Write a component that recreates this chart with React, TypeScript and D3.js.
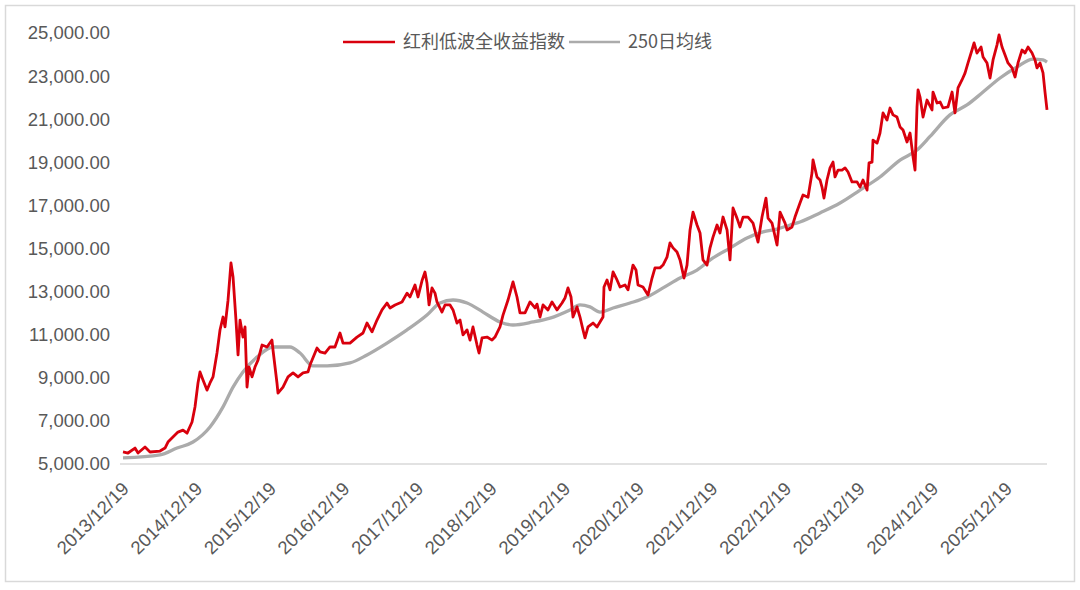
import React from "react";
import * as d3 from "d3";

// years elapsed since 2013/12/19, index value
const indexT = [0,0.068,0.163,0.204,0.299,0.367,0.503,0.571,0.611,0.679,0.747,0.815,0.870,0.938,0.978,1.019,1.046,1.087,1.141,1.182,1.223,1.277,1.318,1.359,1.386,1.427,1.467,1.495,1.535,1.563,1.590,1.630,1.658,1.685,1.712,1.753,1.793,1.834,1.889,1.957,2.024,2.038,2.092,2.106,2.174,2.242,2.310,2.378,2.446,2.514,2.541,2.636,2.677,2.745,2.812,2.880,2.948,2.989,3.084,3.179,3.261,3.315,3.383,3.451,3.519,3.587,3.628,3.696,3.791,3.859,3.899,3.967,4.008,4.062,4.103,4.130,4.158,4.198,4.239,4.266,4.334,4.375,4.443,4.484,4.538,4.579,4.620,4.674,4.715,4.755,4.810,4.837,4.878,4.946,5.014,5.054,5.122,5.163,5.231,5.299,5.353,5.394,5.462,5.530,5.598,5.625,5.666,5.707,5.774,5.829,5.897,5.965,6.005,6.046,6.087,6.114,6.168,6.209,6.250,6.277,6.318,6.386,6.440,6.481,6.522,6.535,6.576,6.617,6.658,6.712,6.753,6.821,6.861,6.929,6.970,6.997,7.065,7.133,7.188,7.228,7.296,7.337,7.391,7.432,7.473,7.527,7.568,7.622,7.663,7.704,7.745,7.799,7.840,7.880,7.935,7.976,8.016,8.071,8.111,8.152,8.207,8.247,8.288,8.342,8.383,8.424,8.492,8.560,8.628,8.682,8.736,8.764,8.818,8.886,8.927,8.995,9.022,9.090,9.130,9.198,9.239,9.307,9.361,9.375,9.429,9.470,9.497,9.524,9.565,9.606,9.647,9.674,9.715,9.769,9.810,9.851,9.905,9.973,10.014,10.054,10.109,10.136,10.177,10.190,10.245,10.285,10.326,10.380,10.421,10.462,10.516,10.557,10.598,10.652,10.693,10.734,10.761,10.788,10.802,10.829,10.870,10.924,10.992,11.005,11.060,11.101,11.141,11.209,11.264,11.304,11.345,11.399,11.440,11.481,11.535,11.563,11.603,11.658,11.685,11.739,11.780,11.821,11.875,11.902,11.943,11.984,12.024,12.079,12.120,12.160,12.215,12.255,12.296,12.351,12.391,12.418,12.459,12.500,12.527,12.554];
const indexValues = [5557,5510,5740,5510,5790,5557,5600,5740,6020,6250,6480,6570,6430,6950,7645,8760,9270,8900,8430,8760,9040,10150,11220,11820,11360,12600,14330,13680,11680,10060,11680,10890,11360,8570,9500,9040,9500,9820,10520,10430,10750,10290,8760,8290,8570,9040,9230,9040,9230,9270,9590,10380,10200,10150,10430,10430,11080,10610,10610,10890,11080,11540,11130,11680,12150,12470,12240,12380,12520,12930,12750,13310,12750,13500,13910,13400,12380,13170,12930,12520,12050,12380,12380,12150,11540,11680,10990,11220,10750,11360,10520,10150,10850,10890,10750,10890,11360,11910,12610,13450,12750,12010,12010,12520,12240,12420,11820,12380,12150,12520,12150,12470,12700,13170,12750,11820,12290,11820,11220,10850,11360,11540,11360,11590,11820,13210,13540,13080,13910,13540,13210,13310,13080,14230,14000,13310,13210,12840,13630,14100,14100,14230,14600,15260,15030,14840,14470,13630,14230,15860,16690,16090,15720,14470,14230,15030,15530,16090,15720,16460,15860,14470,16880,16410,16000,16460,16460,16180,15300,16460,17340,16410,16180,15160,16690,16180,15860,16000,16460,17110,17480,17380,18500,19110,18320,18180,17850,17340,18180,18740,19010,18320,18640,18640,18740,18550,18090,18090,17850,18180,17710,18970,19010,20030,19890,20360,21290,20960,21520,21200,21100,20640,20500,19940,20360,19250,18640,21570,22360,22030,21100,21890,21430,22260,21750,21800,21520,21570,22260,21290,22450,22820,23140,23610,24210,24540,24070,24350,23890,23610,22910,23750,24450,24910,24350,23980,23610,23380,22960,23610,24210,24070,24350,24070,23750,23380,23610,23150,22260,21430];

const maT = [0,0.503,0.734,0.951,1.182,1.359,1.495,1.630,1.821,2.038,2.269,2.405,2.582,2.772,3.084,3.315,3.587,3.859,4.130,4.307,4.484,4.674,4.891,5.122,5.299,5.571,5.802,6.073,6.209,6.345,6.481,6.658,6.889,7.120,7.337,7.568,7.799,8.016,8.247,8.478,8.696,8.886,9.063,9.198,9.470,9.742,10.014,10.285,10.557,10.788,10.965,11.236,11.467,11.685,11.916,12.147,12.364,12.500,12.554];
const maValues = [5280,5420,5740,6020,6720,7650,8570,9270,9960,10430,10430,10150,9550,9550,9690,10060,10610,11220,11910,12470,12610,12470,12050,11590,11450,11590,11770,12150,12380,12290,12050,12240,12470,12750,13170,13630,14000,14560,15020,15490,15770,15900,16090,16230,16650,17110,17710,18320,19100,19570,20200,21200,21660,22260,22910,23420,23790,23750,23650];

const xTickLabels = ["2013/12/19","2014/12/19","2015/12/19","2016/12/19","2017/12/19","2018/12/19","2019/12/19","2020/12/19","2021/12/19","2022/12/19","2023/12/19","2024/12/19","2025/12/19"];
const yTicks = [5000,7000,9000,11000,13000,15000,17000,19000,21000,23000,25000];
const seriesNames = ["红利低波全收益指数","250日均线"];

const W = 1080, H = 590;
const RED = "#d9000d";
const GRAY = "#ababab";
const TEXT = "#595959";

export default function App() {
  const x = d3.scaleLinear().domain([0, 12.554]).range([123, 1047]);
  const y = d3.scaleLinear().domain([5000, 25000]).range([464, 33]);
  const fmt = d3.format(",.2f");

  const redData = indexT.map((t, i) => [t, indexValues[i]] as [number, number]);
  const maData = maT.map((t, i) => [t, maValues[i]] as [number, number]);
  const line = d3.line<[number, number]>().x(d => x(d[0])).y(d => y(d[1]));
  const smooth = d3.line<[number, number]>().x(d => x(d[0])).y(d => y(d[1])).curve(d3.curveMonotoneX);

  const numFont = "'Liberation Sans', Arial, sans-serif";
  const cjkFont = "'Noto Sans CJK SC', 'Liberation Sans', sans-serif";

  return (
    <svg width={W} height={H} style={{ position: "absolute", left: 0, top: 0, background: "#fff" }}>
      <rect x={5.5} y={5.5} width={1069} height={576} fill="#fff" stroke="#d9d9d9" strokeWidth={1.5} />
      {yTicks.map(v => (
        <text key={v} x={110} y={y(v)} dy="0.35em" textAnchor="end" fontSize={18.5} fill={TEXT} fontFamily={numFont}>
          {fmt(v)}
        </text>
      ))}
      <line x1={120} x2={1047} y1={y(5000)} y2={y(5000)} stroke="#d9d9d9" strokeWidth={1.5} />
      {xTickLabels.map((lab, i) => (
        <text key={lab} transform={`translate(${x(i) + 7},${490}) rotate(-45)`} textAnchor="end" fontSize={18.5} fill={TEXT} fontFamily={numFont}>
          {lab}
        </text>
      ))}
      <path d={smooth(maData) || ""} fill="none" stroke={GRAY} strokeWidth={3.3} strokeLinejoin="round" />
      <path d={line(redData) || ""} fill="none" stroke={RED} strokeWidth={2.8} strokeLinejoin="round" />
      <line x1={343} x2={395} y1={42} y2={42} stroke={RED} strokeWidth={2.5} />
      <text x={403} y={42} dy="0.35em" fontSize={18} fill={TEXT} fontFamily={cjkFont}>{seriesNames[0]}</text>
      <line x1={569} x2={620} y1={42} y2={42} stroke={GRAY} strokeWidth={2.5} />
      <text x={628} y={42} dy="0.35em" fontSize={18} fill={TEXT} fontFamily={cjkFont}>{seriesNames[1]}</text>
    </svg>
  );
}
